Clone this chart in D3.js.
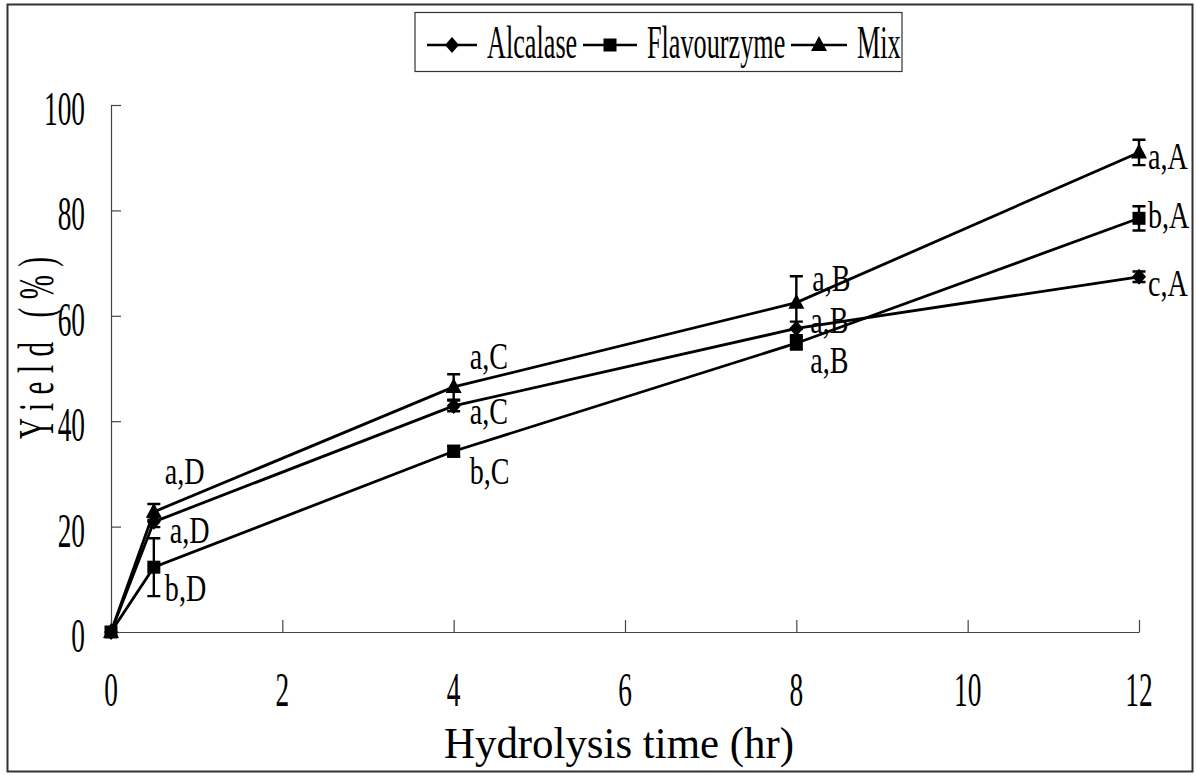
<!DOCTYPE html>
<html>
<head>
<meta charset="utf-8">
<script src="https://cdn.jsdelivr.net/npm/d3@7"></script>
<style>
  body { margin: 0; background: #fff; }
  text { font-family: "Liberation Serif", "DejaVu Serif", serif; fill: #000; }
</style>
</head>
<body>
<div id="chart"></div>
<script>
// data
const hours = [0, 0.5, 4, 8, 12];
const alcalase = [0, 20.9, 42.9, 57.6, 67.4];
const alcalaseErr = [0, 1.0, 1.0, 1.3, 1.0];
const flavourzyme = [0, 12.3, 34.3, 54.8, 78.5];
const flavourzymeErr = [0, 5.5, 1.0, 1.2, 2.3];
const mix = [0, 22.8, 46.5, 62.5, 91.0];
const mixErr = [0, 1.5, 2.4, 5.0, 2.4];
const alcalaseLabels = ["", "a,D", "a,C", "a,B", "c,A"];
const flavourzymeLabels = ["", "b,D", "b,C", "a,B", "b,A"];
const mixLabels = ["", "a,D", "a,C", "a,B", "a,A"];
const xTicks = [0, 2, 4, 6, 8, 10, 12];
const yTicks = [0, 20, 40, 60, 80, 100];

// layout
const WIDTH = 1196;
const HEIGHT = 775;
const X_RANGE = [111, 1139];
const Y_RANGE = [632, 105];
const TICK_FONT = 48, TICK_SX = 0.57;
const LABEL_FONT = 38, LABEL_SX = 0.74;
const LEGEND_FONT = 46, LEGEND_SX = 0.57;
const CAP = 6.5;
// label offsets from the point, per series
const LABEL_OFFSETS = {
    Alcalase: [null, [16, 21], [16, 18], [14, 5], [9, 19]],
    Flavourzyme: [null, [11, 34], [16, 33], [14, 30], [9, 10]],
    Mix: [null, [11, -28], [16, -18], [16, -12], [9, 17]],
};
// legend: line start, line width
const LEGEND_ITEMS = [[427, 50], [583, 54], [791, 56]];

const series = [
    { name: "Alcalase", values: alcalase, err: alcalaseErr, labels: alcalaseLabels, shape: "diamond" },
    { name: "Flavourzyme", values: flavourzyme, err: flavourzymeErr, labels: flavourzymeLabels, shape: "square" },
    { name: "Mix", values: mix, err: mixErr, labels: mixLabels, shape: "triangle" },
];

const x = d3.scaleLinear().domain([0, 12]).range(X_RANGE);
const y = d3.scaleLinear().domain([0, 100]).range(Y_RANGE);

const svg = d3.select("#chart").append("svg")
    .attr("width", WIDTH)
    .attr("height", HEIGHT);

// outer frame
svg.append("rect")
    .attr("x", 7.5).attr("y", 4.5)
    .attr("width", 1185).attr("height", 767)
    .attr("fill", "none").attr("stroke", "#333").attr("stroke-width", 2);

function squeezedText(parent, px, py, sx, size, anchor, str) {
    const g = parent.append("g")
        .attr("transform", "translate(" + px + "," + py + ") scale(" + sx + ",1)");
    g.append("text")
        .attr("font-size", size)
        .attr("text-anchor", anchor)
        .text(str);
    return g;
}

// axes
svg.append("g")
    .attr("transform", "translate(0," + Y_RANGE[0] + ")")
    .call(d3.axisBottom(x).tickValues(xTicks).tickSizeInner(-12).tickSizeOuter(0).tickFormat(""));
svg.append("g")
    .attr("transform", "translate(" + X_RANGE[0] + ",0)")
    .call(d3.axisLeft(y).tickValues(yTicks).tickSizeInner(-10).tickSizeOuter(0).tickFormat(""));
svg.selectAll(".domain, .tick line").attr("stroke", "#444").attr("stroke-width", 1.2);

xTicks.forEach(t => squeezedText(svg, x(t), 706, TICK_SX, TICK_FONT, "middle", t));
yTicks.forEach(t => squeezedText(svg, 85, y(t) + 20, TICK_SX, TICK_FONT, "end", t));

// axis titles
svg.append("text")
    .attr("x", 619).attr("y", 758)
    .attr("font-size", 44)
    .attr("text-anchor", "middle")
    .attr("textLength", 350)
    .attr("lengthAdjust", "spacingAndGlyphs")
    .text("Hydrolysis time (hr)");

const yTitle = svg.append("g")
    .attr("transform", "translate(53,348) rotate(-90) scale(0.58,1)");
yTitle.append("text")
    .attr("font-size", 50)
    .attr("text-anchor", "middle")
    .attr("textLength", 182 / 0.58)
    .attr("lengthAdjust", "spacing")
    .text("Yield (%)");

// markers
function drawMarker(g, shape, cx, cy) {
    if (shape === "square") {
        g.append("rect")
            .attr("x", cx - 6.5).attr("y", cy - 6.5)
            .attr("width", 13).attr("height", 13)
            .attr("fill", "#000");
    } else if (shape === "diamond") {
        g.append("path")
            .attr("d", `M${cx},${cy - 8}L${cx + 7},${cy}L${cx},${cy + 8}L${cx - 7},${cy}Z`)
            .attr("fill", "#000");
    } else {
        g.append("path")
            .attr("d", `M${cx},${cy - 9}L${cx + 8},${cy + 6}L${cx - 8},${cy + 6}Z`)
            .attr("fill", "#000");
    }
}

const line = d3.line()
    .x((d, i) => x(hours[i]))
    .y(d => y(d));

const plot = svg.append("g");
series.forEach(s => {
    plot.append("path")
        .datum(s.values)
        .attr("d", line)
        .attr("fill", "none")
        .attr("stroke", "#000")
        .attr("stroke-width", 2.8);
});

series.forEach(s => {
    const g = plot.append("g");
    s.values.forEach((v, i) => {
        const cx = x(hours[i]);
        if (s.err[i] > 0) {
            const top = y(v + s.err[i]), bot = y(v - s.err[i]);
            g.append("path")
                .attr("d", `M${cx},${top}V${bot}M${cx - CAP},${top}H${cx + CAP}M${cx - CAP},${bot}H${cx + CAP}`)
                .attr("stroke", "#000")
                .attr("stroke-width", 2.4)
                .attr("fill", "none");
        }
        drawMarker(g, s.shape, cx, y(v));
    });
});

// significance letters
series.forEach(s => {
    s.labels.forEach((lab, i) => {
        if (!lab) return;
        const off = LABEL_OFFSETS[s.name][i];
        squeezedText(svg, x(hours[i]) + off[0], y(s.values[i]) + off[1], LABEL_SX, LABEL_FONT, "start", lab);
    });
});

// legend
const legend = svg.append("g");
legend.append("rect")
    .attr("x", 415).attr("y", 12.5)
    .attr("width", 487).attr("height", 59)
    .attr("fill", "#fff").attr("stroke", "#333").attr("stroke-width", 1.2);
series.forEach((s, i) => {
    const [lx, w] = LEGEND_ITEMS[i];
    legend.append("line")
        .attr("x1", lx).attr("x2", lx + w)
        .attr("y1", 45).attr("y2", 45)
        .attr("stroke", "#000").attr("stroke-width", 2.4);
    drawMarker(legend, s.shape, lx + w / 2, 45);
    squeezedText(legend, lx + w + 10, 58, LEGEND_SX, LEGEND_FONT, "start", s.name);
});
</script>
</body>
</html>
